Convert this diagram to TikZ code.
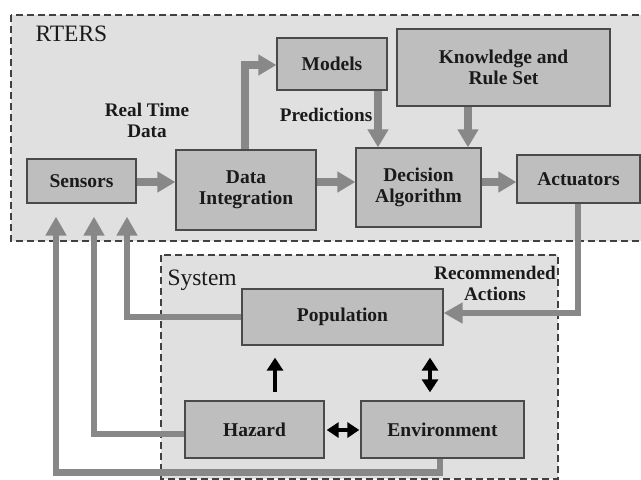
\documentclass[tikz,border=0pt]{standalone}
\usepackage{fontspec}
\setmainfont{Liberation Serif}
\usetikzlibrary{arrows.meta,shadows,calc}
\definecolor{bgc}{HTML}{E0E0E0}
\definecolor{boxc}{HTML}{BEBEBE}
\definecolor{boxl}{HTML}{4A4A4A}
\definecolor{arrc}{HTML}{888888}
\definecolor{txt}{HTML}{1A1A1A}
\tikzset{
  blk/.style={draw=boxl, line width=1.3pt, fill=boxc, text=txt, align=center,
    font=\fontsize{19.5}{21}\selectfont\bfseries, inner sep=2pt,
    drop shadow={shadow xshift=1.2pt, shadow yshift=-1.2pt, fill=black!60, opacity=0.8}},
  region/.style={draw=black!75, fill=bgc, dash pattern=on 7pt off 4pt},
  lbl/.style={text=txt, align=center, font=\fontsize{19.2}{21}\selectfont\bfseries},
  title/.style={text=txt, anchor=west, font=\fontsize{23.5}{26}\selectfont},
  garr/.style={draw=arrc, line width=7.5pt, -{Triangle[width=20pt,length=18pt]}},
  gline/.style={draw=arrc, line width=6.5pt, line join=miter, -{Triangle[width=20pt,length=19pt]}},
  barr/.style={draw=black, line width=3.2pt, -{Triangle[width=16pt,length=13pt]}},
  bdarr/.style={draw=black, line width=3.2pt, {Triangle[width=16pt,length=13pt]}-{Triangle[width=16pt,length=13pt]}},
  bharr/.style={draw=black, line width=3.2pt, {Triangle[width=15pt,length=12pt]}-{Triangle[width=15pt,length=12pt]}}
}
\begin{document}
\begin{tikzpicture}[x=1pt,y=-1pt]
\useasboundingbox (0,0) rectangle (641,480);
\clip (0,0) rectangle (641,480);
\fill[white] (0,0) rectangle (641,480);
% regions
\draw[region, line width=2pt] (11,15) rectangle (660,241);
\draw[region, line width=1.5pt] (161,255) rectangle (558,479);
\node[title] (rters) at (32,34) {RTERS};
\node[title] (system) at (164,280) {System};
% blocks
\node[blk, minimum width=109pt, minimum height=44pt] (sens) at (81.5,181) {Sensors};
\node[blk, minimum width=140pt, minimum height=80pt] (di) at (246,190) {Data\\Integration};
\node[blk, minimum width=110pt, minimum height=52pt] (mod) at (332,64) {Models};
\node[blk, minimum width=213pt, minimum height=77pt] (kno) at (503.5,67.5) {Knowledge and\\Rule Set};
\node[blk, minimum width=125pt, minimum height=79pt] (dec) at (418.5,187.5) {Decision\\Algorithm};
\node[blk, minimum width=123pt, minimum height=48pt] (act) at (578.5,179) {Actuators};
\node[blk, minimum width=201pt, minimum height=56pt] (pop) at (342.5,317) {Population};
\node[blk, minimum width=139pt, minimum height=57pt] (haz) at (254.5,429.5) {Hazard};
\node[blk, minimum width=163pt, minimum height=57pt] (env) at (442.5,429.5) {Environment};
% labels
\node[lbl] (rtd) at (147,120) {Real Time\\Data};
\node[lbl] (pred) at (326,115) {Predictions};
\node[lbl] (rec) at (495,283) {Recommended\\Actions};
% gray arrows in RTERS
\coordinate (row) at (0,182);
\draw[garr] (sens.east |- row) -- (di.west |- row);
\draw[garr] (di.east |- row) -- (dec.west |- row);
\draw[garr] (dec.east |- row) -- (act.west |- row);
\draw[garr, line join=miter] ([xshift=-1pt]di.north) |- ([yshift=-1pt]mod.west);
\draw[garr] ([xshift=46pt]mod.south) -- ([xshift=46pt]mod.south |- dec.north);
\draw[garr] ([xshift=-35.5pt]kno.south) -- ([xshift=-35.5pt]kno.south |- dec.north);
\draw[gline] ([xshift=-0.5pt]act.south) |- ([yshift=4pt]pop.east);
% feedback lines
\coordinate (fb1) at (127,0);
\coordinate (fb2) at (94,0);
\coordinate (fb3) at (56,0);
\draw[gline, shorten >=13pt] (pop.west) -| (fb1 |- sens.south);
\draw[gline, shorten >=13pt] ([yshift=-4.5pt]haz.west) -| (fb2 |- sens.south);
\draw[gline, shorten >=13pt] ([xshift=-2.5pt]env.south) |- ++(0,14) -| (fb3 |- sens.south);
% black arrows in System
\draw[barr, shorten <=8pt, shorten >=12pt] ([xshift=20.5pt]haz.north) -- ([xshift=20.5pt]haz.north |- pop.south);
\draw[bdarr, shorten <=12pt, shorten >=8pt] ([xshift=-12.5pt]env.north |- pop.south) -- ([xshift=-12.5pt]env.north);
\draw[bharr, shorten <=2pt, shorten >=1pt] ([yshift=-0.5pt]haz.east) -- ([yshift=-0.5pt]env.west);
\end{tikzpicture}
\end{document}
